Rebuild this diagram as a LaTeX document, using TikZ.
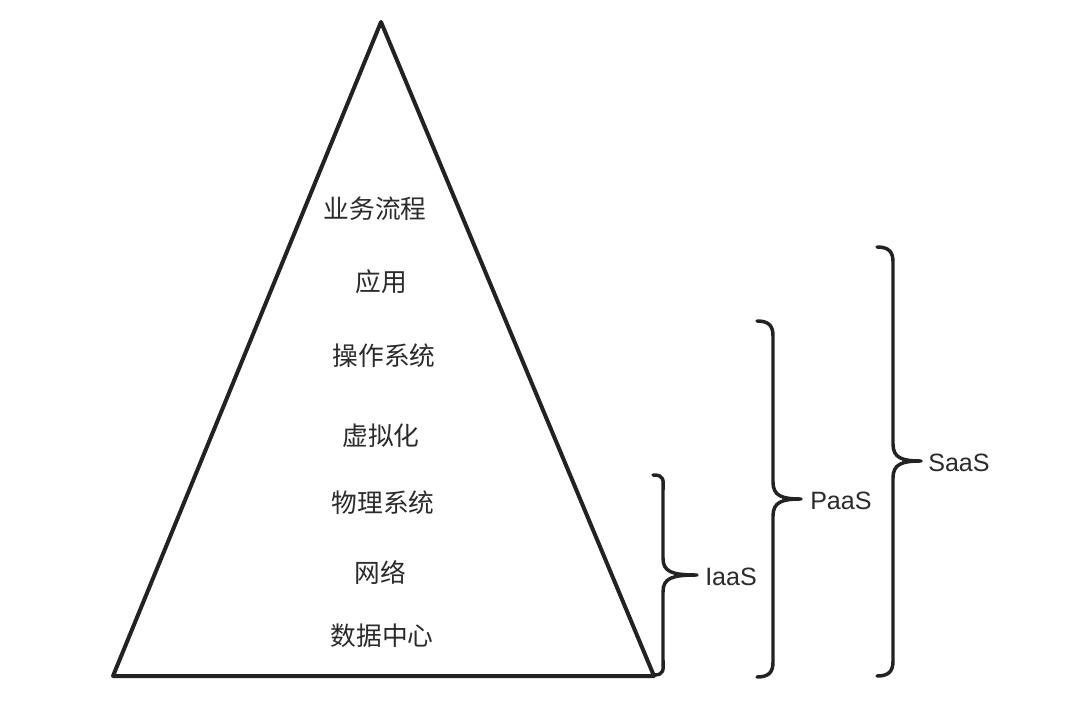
\documentclass[tikz,border=0pt]{standalone}
\usepackage{fontspec}
\setmainfont{Liberation Sans}
\newfontfamily\cjk{Noto Sans CJK SC}
\definecolor{ink}{HTML}{222222}
\definecolor{txt}{HTML}{2B2B2B}
\begin{document}
\begin{tikzpicture}[x=0.75pt,y=-0.75pt,
  layer/.style={font=\cjk\fontsize{19.3pt}{21pt}\selectfont, text=txt, inner sep=0pt},
  tag/.style={font=\fontsize{18.8pt}{21pt}\selectfont, text=txt, inner sep=0pt, anchor=west},
  edge/.style={draw=ink, line width=3pt, line join=round, line cap=round},
  brace/.style={draw=ink, line width=2.6pt, line cap=round, line join=round}]
\useasboundingbox (0,0) rectangle (1080,712);
\fill[white] (0,0) rectangle (1080,712);
% triangle
\coordinate (apex) at (381,22);
\coordinate (bl) at (113,676);
\coordinate (br) at (654,676);
\draw[edge] (apex) -- (bl) -- (br) -- cycle;
% layers
\node[layer] (l1) at (375,209) {业务流程};
\node[layer] (l2) at (381,282) {应用};
\node[layer] (l3) at (384,356) {操作系统};
\node[layer] (l4) at (381,436) {虚拟化};
\node[layer] (l5) at (383,503) {物理系统};
\node[layer] (l6) at (380,573) {网络};
\node[layer] (l7) at (382,636) {数据中心};
% braces
% IaaS
\coordinate (it) at (653,475);
\coordinate (ib) at (653,675);
\coordinate (ip) at (697,575);
\draw[brace] (it) .. controls (665,475) and (663,480) .. (663,490)
  -- (663,558) .. controls (663,572) and (672,575) .. (ip)
  .. controls (672,575) and (663,578) .. (663,592)
  -- (663,660) .. controls (663,670) and (665,675) .. (ib);
\node[tag] (iaas) at (705,577) {IaaS};
% PaaS
\coordinate (pt) at (757,321);
\coordinate (pb) at (757,677);
\coordinate (pp) at (801,499);
\draw[brace] (pt) .. controls (769,321) and (773,326) .. (773,336)
  -- (773,482) .. controls (773,496) and (782,499) .. (pp)
  .. controls (782,499) and (773,502) .. (773,516)
  -- (773,662) .. controls (773,672) and (769,677) .. (pb);
\node[tag] (paas) at (810,501) {PaaS};
% SaaS
\coordinate (st) at (877,247);
\coordinate (sb) at (877,676);
\coordinate (sp) at (921,461);
\draw[brace] (st) .. controls (889,247) and (893,252) .. (893,262)
  -- (893,444) .. controls (893,458) and (902,461) .. (sp)
  .. controls (902,461) and (893,464) .. (893,478)
  -- (893,661) .. controls (893,671) and (889,676) .. (sb);
\node[tag] (saas) at (928,463) {SaaS};
\end{tikzpicture}
\end{document}
